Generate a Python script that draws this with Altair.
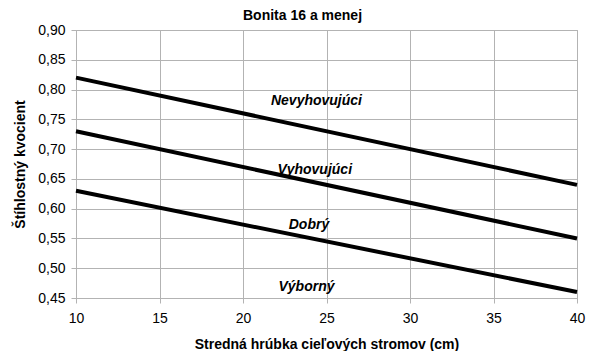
import altair as alt
import pandas as pd

# Data
x_vals = [10, 40]
series_names = ["Hranica 1", "Hranica 2", "Hranica 3"]
series_values = [
    [0.82, 0.64],
    [0.73, 0.55],
    [0.63, 0.46],
]
label_text = ["Nevyhovujúci", "Vyhovujúci", "Dobrý", "Výborný"]
label_x = [24.4, 24.3, 23.95, 23.8]
label_y = [0.781, 0.665, 0.572, 0.468]
x_ticks = [10, 15, 20, 25, 30, 35, 40]

rows = []
for name, vals in zip(series_names, series_values):
    for xv, yv in zip(x_vals, vals):
        rows.append({"x": xv, "y": yv, "s": name})
lines_df = pd.DataFrame(rows)
labels_df = pd.DataFrame({"x": label_x, "y": label_y, "t": label_text})

FONT = "Liberation Sans"

xscale = alt.Scale(domain=[10, 40], nice=False, zero=False)
yscale = alt.Scale(domain=[0.45, 0.90], nice=False, zero=False)

lines = alt.Chart(lines_df).mark_line(color="black", strokeWidth=4, strokeCap="butt").encode(
    x=alt.X("x:Q", scale=xscale,
            axis=alt.Axis(title="Stredná hrúbka cieľových stromov (cm)", values=x_ticks,
                          format="d", titlePadding=12, labelPadding=8)),
    y=alt.Y("y:Q", scale=yscale,
            axis=alt.Axis(title="Štíhlostný kvocient", tickCount=10,
                          labelExpr="replace(format(datum.value, '.2f'), '.', ',')",
                          titlePadding=10, labelPadding=6)),
    detail="s:N",
)

labels = alt.Chart(labels_df).mark_text(
    font=FONT, fontSize=14, fontWeight="bold", fontStyle="italic", color="black"
).encode(
    x=alt.X("x:Q", scale=xscale),
    y=alt.Y("y:Q", scale=yscale),
    text="t:N",
)

chart = (lines + labels).properties(
    width=501,
    height=268,
    autosize=alt.AutoSizeParams(type="none"),
    padding={"left": 68, "top": 22, "right": 15, "bottom": 53},
    title=alt.TitleParams("Bonita 16 a menej", font=FONT, fontSize=14, fontWeight="bold",
                          color="black", dx=-24, offset=0),
).configure_view(stroke="#b3b3b3").configure_axis(
    labelFont=FONT, labelFontSize=14, labelColor="black",
    labelOverlap=False, labelFlush=False,
    titleFont=FONT, titleFontSize=14, titleFontWeight="bold", titleColor="black",
    gridColor="#b3b3b3", domainColor="#b3b3b3", tickColor="#b3b3b3", tickSize=5,
)

chart.save("out.html", embed_options={"renderer": "svg", "actions": False})
